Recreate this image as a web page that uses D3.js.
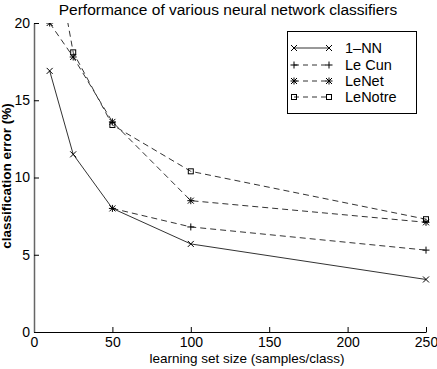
<!DOCTYPE html>
<html><head><meta charset="utf-8">
<script src="https://cdn.jsdelivr.net/npm/d3@7"></script>
<style>body{margin:0;background:#fff}svg{display:block}text{font-family:"Liberation Sans",Arial,sans-serif}</style>
</head><body>
<script>
const sizes = [10, 25, 50, 100, 250];
const nn1 = [16.9, 11.5, 8.0, 5.7, 3.4];
const leCunX = [50, 100, 250];
const leCun = [8.0, 6.8, 5.3];
const leNet = [20.0, 17.8, 13.6, 8.5, 7.1];
const leNotre = [26.5, 18.1, 13.4, 10.4, 7.3];
const seriesNames = ["1\u2013NN", "Le Cun", "LeNet", "LeNotre"];
const xTicks = [0, 50, 100, 150, 200, 250];
const yTicks = [0, 5, 10, 15, 20];

const W = 437, H = 369;
const svg = d3.select("body").append("svg").attr("width", W).attr("height", H);
const x = d3.scaleLinear().domain([0, 250]).range([34, 426]);
const y = d3.scaleLinear().domain([0, 20]).range([332, 23]);

svg.append("defs").append("clipPath").attr("id", "clip")
  .append("rect").attr("x", 34).attr("y", 23).attr("width", 400).attr("height", 310);

const series = [
  {name: seriesNames[0], xs: sizes, ys: nn1, dash: null, marker: "x"},
  {name: seriesNames[1], xs: leCunX, ys: leCun, dash: "6,4", marker: "+"},
  {name: seriesNames[2], xs: sizes, ys: leNet, dash: "6,4", marker: "*"},
  {name: seriesNames[3], xs: sizes, ys: leNotre, dash: "6,4", marker: "s"}
];

function drawMarker(g, type, cx, cy) {
  const s = 3;
  if (type === "x" || type === "*") {
    g.append("path").attr("d", `M${cx-s},${cy-s}L${cx+s},${cy+s}M${cx-s},${cy+s}L${cx+s},${cy-s}`)
      .attr("stroke", "#000").attr("stroke-width", 1);
  }
  if (type === "+" || type === "*") {
    g.append("path").attr("d", `M${cx-s-0.5},${cy}L${cx+s+0.5},${cy}M${cx},${cy-s-0.5}L${cx},${cy+s+0.5}`)
      .attr("stroke", "#000").attr("stroke-width", 1);
  }
  if (type === "s") {
    g.append("rect").attr("x", cx-2.5).attr("y", cy-2.5).attr("width", 5).attr("height", 5)
      .attr("fill", "none").attr("stroke", "#000").attr("stroke-width", 1);
  }
}

const plot = svg.append("g").attr("clip-path", "url(#clip)");
const line = d3.line().x(d => x(d[0])).y(d => y(d[1]));
series.forEach(s => {
  const pts = s.xs.map((v, i) => [v, s.ys[i]]);
  plot.append("path").datum(pts).attr("d", line).attr("fill", "none")
    .attr("stroke", "#333").attr("stroke-width", 1)
    .attr("stroke-dasharray", s.dash);
  pts.forEach(p => { if (p[1] <= 20.2) drawMarker(plot, s.marker, x(p[0]), y(p[1])); });
});

// axes
const xAxis = svg.append("g").attr("transform", "translate(0,332)")
  .call(d3.axisBottom(x).tickValues(xTicks).tickSizeInner(-5).tickSizeOuter(0).tickPadding(5));
const yAxis = svg.append("g").attr("transform", "translate(34,0)")
  .call(d3.axisLeft(y).tickValues(yTicks).tickSizeInner(-5).tickSizeOuter(0).tickPadding(4));
[xAxis, yAxis].forEach(a => {
  a.selectAll("text").attr("font-size", 14).attr("fill", "#000")
    .attr("font-family", "Liberation Sans, Arial, sans-serif");
  a.selectAll("line").attr("stroke", "#000");
  a.select(".domain").attr("stroke", "#000");
});
yAxis.select(".domain").attr("stroke", "#666").attr("stroke-width", 1.5);

// title and labels
svg.append("text").attr("x", 228).attr("y", 15).attr("text-anchor", "middle")
  .attr("font-size", 15.5).text("Performance of various neural network classifiers");
svg.append("text").attr("x", 247).attr("y", 363).attr("text-anchor", "middle")
  .attr("font-size", 13.5).text("learning set size (samples/class)");
svg.append("text").attr("transform", "translate(11,176) rotate(-90)").attr("text-anchor", "middle")
  .attr("font-size", 13.5).attr("font-weight", "bold").text("classification error (%)");

// legend
const lg = svg.append("g");
lg.append("rect").attr("x", 287.5).attr("y", 31.5).attr("width", 129).attr("height", 82)
  .attr("fill", "#fff").attr("stroke", "#000").attr("stroke-width", 1);
const rowY = [48, 65, 81, 97];
series.forEach((s, i) => {
  const yy = rowY[i];
  lg.append("line").attr("x1", 294).attr("x2", 329).attr("y1", yy).attr("y2", yy)
    .attr("stroke", "#333").attr("stroke-width", 1).attr("stroke-dasharray", s.dash ? "5,4" : null);
  drawMarker(lg, s.marker, 294, yy);
  drawMarker(lg, s.marker, 329, yy);
  lg.append("text").attr("x", 345).attr("y", yy + 5).attr("font-size", 14.5).text(s.name);
});
</script>
</body></html>
